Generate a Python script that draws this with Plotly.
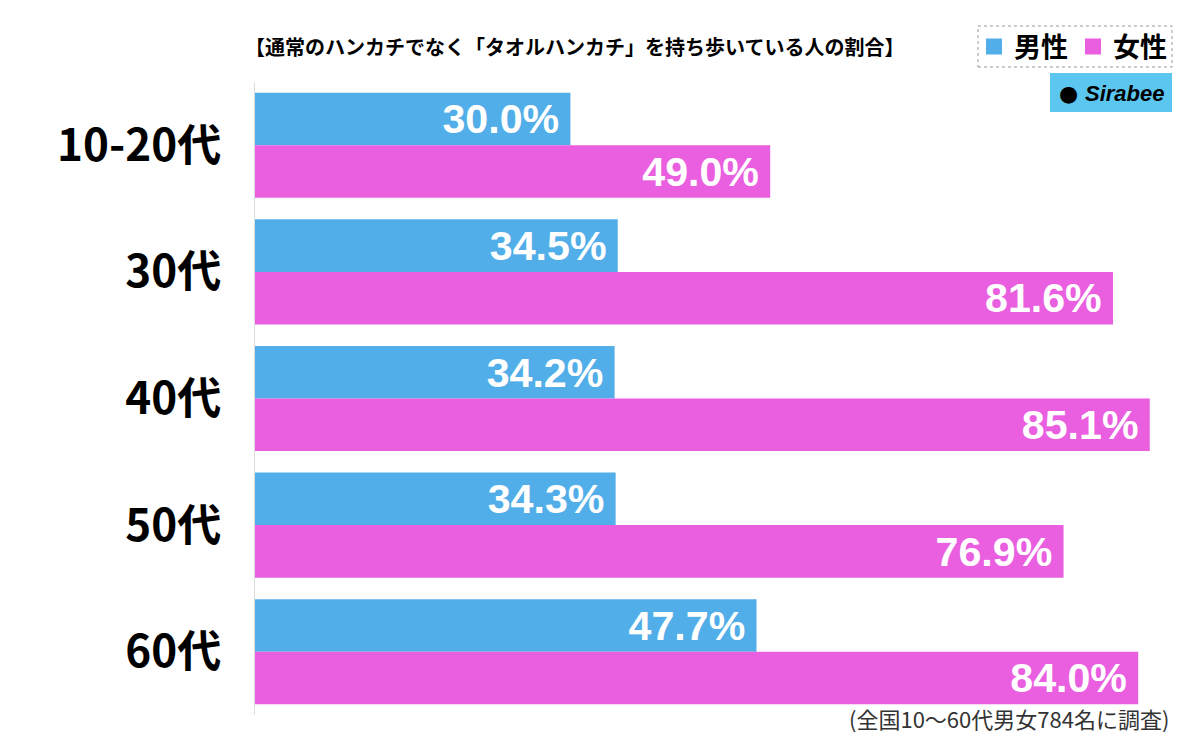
import plotly.graph_objects as go

# data
ages = ["10-20代", "30代", "40代", "50代", "60代"]
male = [30.0, 34.5, 34.2, 34.3, 47.7]
female = [49.0, 81.6, 85.1, 76.9, 84.0]

title = "【通常のハンカチでなく「タオルハンカチ」を持ち歩いている人の割合】"
note = "(全国10〜60代男女784名に調査)"

blue = "#52AEE8"
pink = "#EA5FE0"
jp = "Noto Sans CJK JP"

# the page body adds an 8px margin, so lay out in page pixels and shift
OFF = 8
FW, FH = 1200 - OFF, 735 - OFF
L, T, W, H = 255 - OFF, 82 - OFF, 920, 633

def px(x):
    return (x - OFF - L) / W

def py(y):
    return 1 + (T - (y - OFF)) / H

fig = go.Figure()
for name, vals, col in [("男性", male, blue), ("女性", female, pink)]:
    fig.add_trace(go.Bar(
        y=ages, x=vals, name=name, orientation="h", showlegend=False,
        marker=dict(color=col, line=dict(width=0)),
        text=[f"{v:.1f}%\u2009" for v in vals],
        textposition="inside", insidetextanchor="end",
        textfont=dict(family="Liberation Sans", size=46, color="white", weight="bold"),
        cliponaxis=False,
    ))
    # legend entries with a bigger square swatch
    fig.add_trace(go.Scatter(
        x=[None], y=[None], mode="markers", name=name,
        marker=dict(symbol="square", size=16, color=col),
    ))

fig.update_layout(
    width=FW, height=FH,
    margin=dict(l=L, r=FW - L - W, t=T, b=FH - T - H, autoexpand=False),
    paper_bgcolor="white", plot_bgcolor="white",
    barmode="group", bargap=0.17, bargroupgap=0,
    uniformtext=dict(minsize=10, mode="show"),
    showlegend=True,
    legend=dict(
        orientation="h", x=px(1172), y=1 - (47 - OFF) / FH, xref="paper", yref="container",
        xanchor="right", yanchor="middle",
        font=dict(family=jp, size=27, color="black", weight="bold"),
        bgcolor="rgba(0,0,0,0)", itemwidth=30, traceorder="normal",
    ),
    xaxis=dict(range=[0, 87.5], visible=False),
    yaxis=dict(
        autorange="reversed", showgrid=False, zeroline=False, automargin=False,
        showline=True, linecolor="#dddddd", linewidth=1,
        ticks="", ticklabelstandoff=24,
        tickfont=dict(family=jp, size=44, color="black", weight="bold"),
    ),
)

# title
fig.add_annotation(
    text=f"<b>{title}</b>", xref="paper", yref="paper", x=px(243), y=py(47),
    xanchor="left", yanchor="middle", showarrow=False,
    font=dict(family=jp, size=20, color="black"),
)

# dashed box round the legend
fig.add_shape(type="rect", xref="paper", yref="paper",
              x0=px(978), x1=px(1172), y0=py(67), y1=py(26),
              line=dict(color="#999999", width=1, dash="dot"))

# Sirabee badge
fig.add_shape(type="rect", xref="paper", yref="paper",
              x0=px(1050), x1=px(1172), y0=py(112), y1=py(73),
              fillcolor="#5BC6F0", line=dict(width=0), layer="above")
fig.add_annotation(
    text="●", xref="paper", yref="paper", x=px(1068), y=py(94),
    xanchor="center", yanchor="middle", showarrow=False,
    font=dict(family="DejaVu Sans", size=22, color="black"),
)
fig.add_annotation(
    text="<b><i>Sirabee</i></b>", xref="paper", yref="paper", x=px(1083), y=py(93),
    xanchor="left", yanchor="middle", showarrow=False,
    font=dict(family="Liberation Sans", size=22, color="black"),
)

# footnote
fig.add_annotation(
    text=note, xref="paper", yref="paper", x=px(1171), y=py(718),
    xanchor="right", yanchor="middle", showarrow=False,
    font=dict(family=jp, size=22, color="#333333"),
)

fig.write_html("out.html")
